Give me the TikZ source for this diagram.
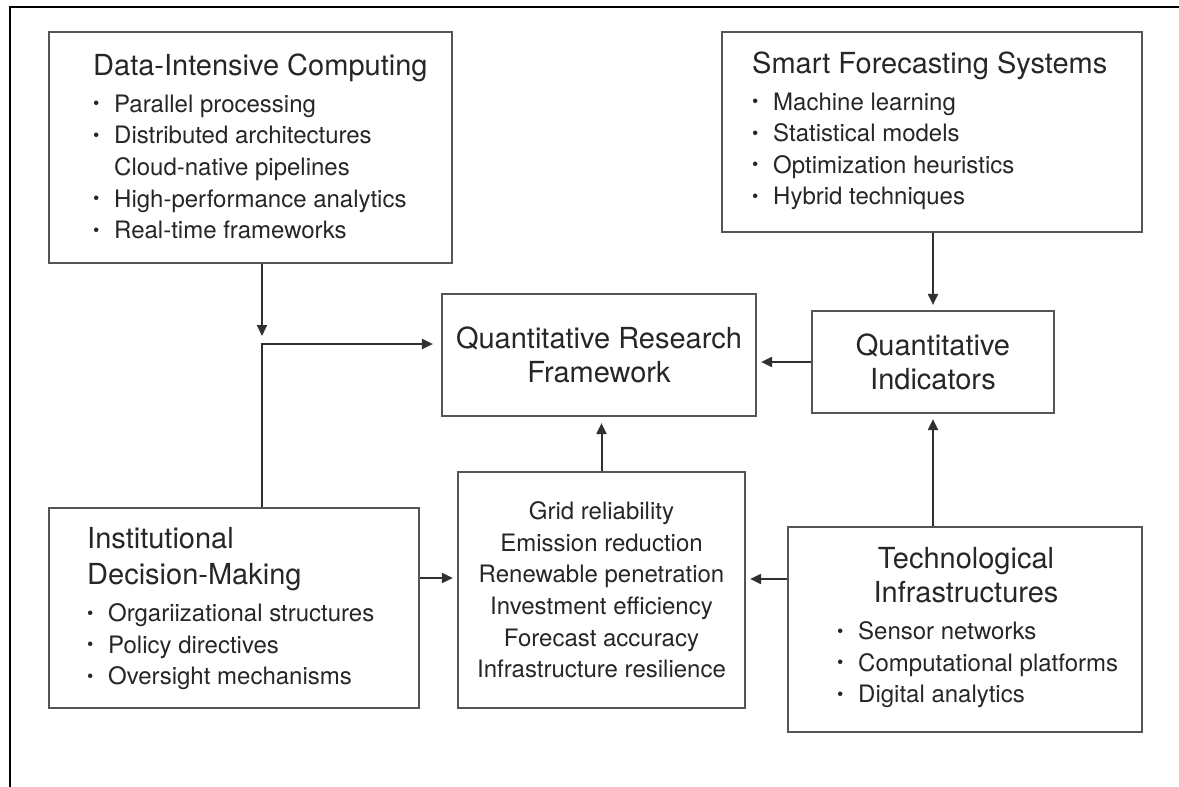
\documentclass[tikz,border=0pt]{standalone}
\usepackage{fontspec}
\setmainfont{TeX Gyre Heros}
\usetikzlibrary{arrows.meta}

\definecolor{ink}{HTML}{262626}
\definecolor{boxgray}{HTML}{555555}
\definecolor{linegray}{HTML}{303030}

\newcommand{\ttlfont}{\fontsize{29}{34}\selectfont}
\newcommand{\itemfont}{\fontsize{24}{31.6}\selectfont}
\newcommand{\blt}{\makebox[21pt][l]{\raisebox{2.4pt}{\fontsize{18}{18}\selectfont\textbullet}}}
\newcommand{\nob}{\makebox[21pt]{}}

\begin{document}
\begin{tikzpicture}[
    x=1pt, y=-1pt,
    box/.style={rectangle, draw=boxgray, line width=2.2pt, inner sep=0pt, text=ink},
    list/.style={inner sep=0pt, align=left, font=\itemfont, text=ink},
    arrow/.style={-{Triangle[length=11pt, width=10pt]}, line width=2pt, draw=linegray}
]
\useasboundingbox (0,0) rectangle (1179,787);

% outer frame (top and left edges only)
\draw[line width=2.5pt] (1179,7) -- (10,7) -- (10,787);

% Define boxes
\node[box, minimum width=403pt, minimum height=231pt] (dic) at (250.5,147.5) {};
\node[box, minimum width=420pt, minimum height=200pt] (sfs) at (932,132) {};
\node[box, minimum width=314pt, minimum height=122pt, align=center, font=\ttlfont] (qrf) at (599,355) {Quantitative Research\\Framework};
\node[box, minimum width=242pt, minimum height=102pt, align=center, font=\ttlfont] (qi) at (933,362) {Quantitative\\Indicators};
\node[box, minimum width=370pt, minimum height=200pt] (idm) at (234,608) {};
\node[box, minimum width=287pt, minimum height=236pt, align=center, font=\itemfont] (met) at (601.5,590) {Grid reliability\\Emission reduction\\Renewable penetration\\Investment efficiency\\Forecast accuracy\\Infrastructure resilience};
\node[box, minimum width=354pt, minimum height=205pt] (ti) at (965,629.5) {};

% Box contents
\node[list, anchor=west] (dictxt) at (93,146.3) {{\ttlfont Data-Intensive Computing}\\[5.4pt]
    \blt Parallel processing\\
    \blt Distributed architectures\\
    \nob Cloud-native pipelines\\
    \blt High-performance analytics\\
    \blt Real-time frameworks};
\node[list, anchor=west] (sfstxt) at (752,130.8) {{\ttlfont Smart Forecasting Systems}\\[5.4pt]
    \blt Machine learning\\
    \blt Statistical models\\
    \blt Optimization heuristics\\
    \blt Hybrid techniques};
\node[list, anchor=west] (idmtxt) at (87,608.8) {{\ttlfont Institutional}\\[4.4pt]
    {\ttlfont Decision-Making}\\[5.4pt]
    \blt Orgariizational structures\\
    \blt Policy directives\\
    \blt Oversight mechanisms};
\node[list, align=center, font=\ttlfont] (tihead) at (966,574.8) {Technological\\Infrastructures};
\node[list, anchor=west] (tilist) at (837,665) {\blt Sensor networks\\
    \blt Computational platforms\\
    \blt Digital analytics};

% Define arrows
\coordinate (drop) at (262,336);
\draw[arrow] (dic.south -| drop) -- (drop);
\draw[arrow, shorten >=8pt] (idm.north -| drop) |- ([yshift=11pt]qrf.west);
\draw[arrow, shorten >=5pt] (sfs.south -| qi.north) -- (qi.north);
\draw[arrow, shorten >=4pt] (qi.west) -- (qi.west -| qrf.east);
\draw[arrow, shorten >=6pt] (met.north) -- (met.north |- qrf.south);
\draw[arrow, shorten >=5pt] (ti.north -| qi.south) -- (qi.south);
\coordinate (metright) at ([yshift=11pt]met.east);
\draw[arrow, shorten >=4pt] (ti.west |- metright) -- (metright);
\coordinate (metleft) at ([yshift=12pt]met.west);
\draw[arrow, shorten >=4pt] (idm.east |- metleft) -- (metleft);

\end{tikzpicture}
\end{document}
